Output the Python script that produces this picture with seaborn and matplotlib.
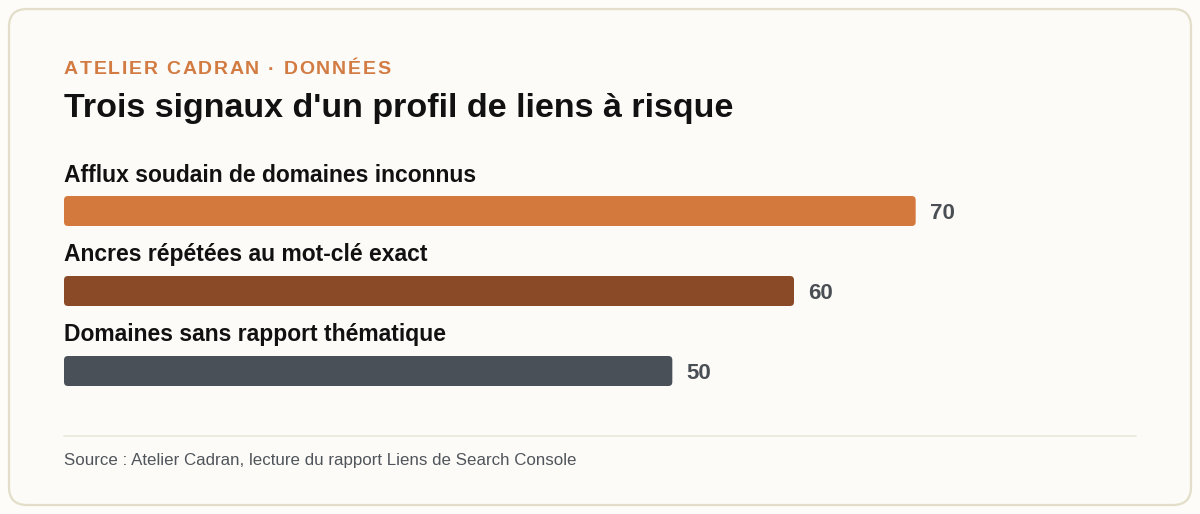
import matplotlib
matplotlib.use("Agg")
import matplotlib.pyplot as plt
import matplotlib.transforms as mtransforms
from matplotlib.patches import FancyBboxPatch
import pandas as pd
import seaborn as sns

categories = ["Afflux soudain de domaines inconnus",
              "Ancres répétées au mot-clé exact",
              "Domaines sans rapport thématique"]
values = [70, 60, 50]
colors = ["#d4793d", "#8a4a27", "#4a5058"]

kicker = "ATELIER CADRAN · DONNÉES"
title = "Trois signaux d'un profil de liens à risque"
source = "Source : Atelier Cadran, lecture du rapport Liens de Search Console"

sns.set_theme(style="white")
plt.rcParams['font.family'] = ['Liberation Sans', 'DejaVu Sans']

W, H = 1200, 514
fig = plt.figure(figsize=(W / 100, H / 100), dpi=100)
fig.patch.set_facecolor("#fdfcf8")

# card
card = FancyBboxPatch((9, 9), W - 18, H - 18, boxstyle="round,pad=0,rounding_size=18",
                      transform=mtransforms.IdentityTransform(),
                      facecolor="#fcfbf7", edgecolor="#e2dec9", linewidth=1.6, zorder=-5)
fig.patches.append(card)

def fy(py):
    return 1 - py / H

# kicker with letter spacing, drawn char by char
renderer = fig.canvas.get_renderer()
xpos = 64
for ch in kicker:
    t = fig.text(xpos / W, fy(70), ch, fontsize=14, fontweight="bold", color="#d27b42",
                 va="center", ha="left")
    if ch == " ":
        w = t.get_fontsize() * 100 / 72 * 0.278
    else:
        w = t.get_window_extent(renderer).width
    xpos += w + 1.7

fig.text(64 / W, fy(109), title, fontsize=24.5, fontweight="bold", color="#111111",
         va="center", ha="left")

# axes: bar centers at 211, 291, 371 px, 80 px apart
ax_top, ax_bot = 150, 400
ax = fig.add_axes([64 / W, (H - ax_bot) / H, (1159 - 64) / W, (ax_bot - ax_top) / H])
ax.set_facecolor("none")

df = pd.DataFrame({"cat": categories, "val": values})
sns.barplot(data=df, y="cat", x="val", hue="cat", palette=colors, legend=False,
            width=0.375, ax=ax, saturation=1)

ax.set_xlim(0, 90)
ax.set_ylim(2 + 29 / 80, -61 / 80)

# swap rectangles for rounded ones (about 4 px radius)
px_x = 1095 / 90
for p in list(ax.patches):
    x, y = p.get_x(), p.get_y()
    w, h = p.get_width(), p.get_height()
    fc = p.get_facecolor()
    p.remove()
    r = 4 / px_x
    ax.add_patch(FancyBboxPatch((x, y), w, h, boxstyle=f"round,pad=0,rounding_size={r}",
                                mutation_aspect=(4 / 80) / r,
                                facecolor=fc, edgecolor="none"))

trans = mtransforms.blended_transform_factory(ax.transAxes, ax.transData)
for i, (c, v) in enumerate(zip(categories, values)):
    ax.text(0, i - 36 / 80, c, transform=trans, fontsize=16.5, fontweight="bold",
            color="#111111", va="center", ha="left")
    ax.annotate(str(v), (v, i), xytext=(10, -1.5), textcoords="offset points",
                fontsize=16, fontweight="bold", color="#4a4f55", va="center", ha="left")

ax.set_xlabel("")
ax.set_ylabel("")
ax.set_xticks([])
ax.set_yticks([])
sns.despine(ax=ax, left=True, bottom=True)

fig.add_artist(plt.Line2D([64 / W, 1136 / W], [fy(436), fy(436)], color="#ebe8d9", lw=1.2))
fig.text(64 / W, fy(460), source, fontsize=12.2, color="#50555b", va="center", ha="left")

fig.savefig("out.png", dpi=100, facecolor=fig.get_facecolor())
